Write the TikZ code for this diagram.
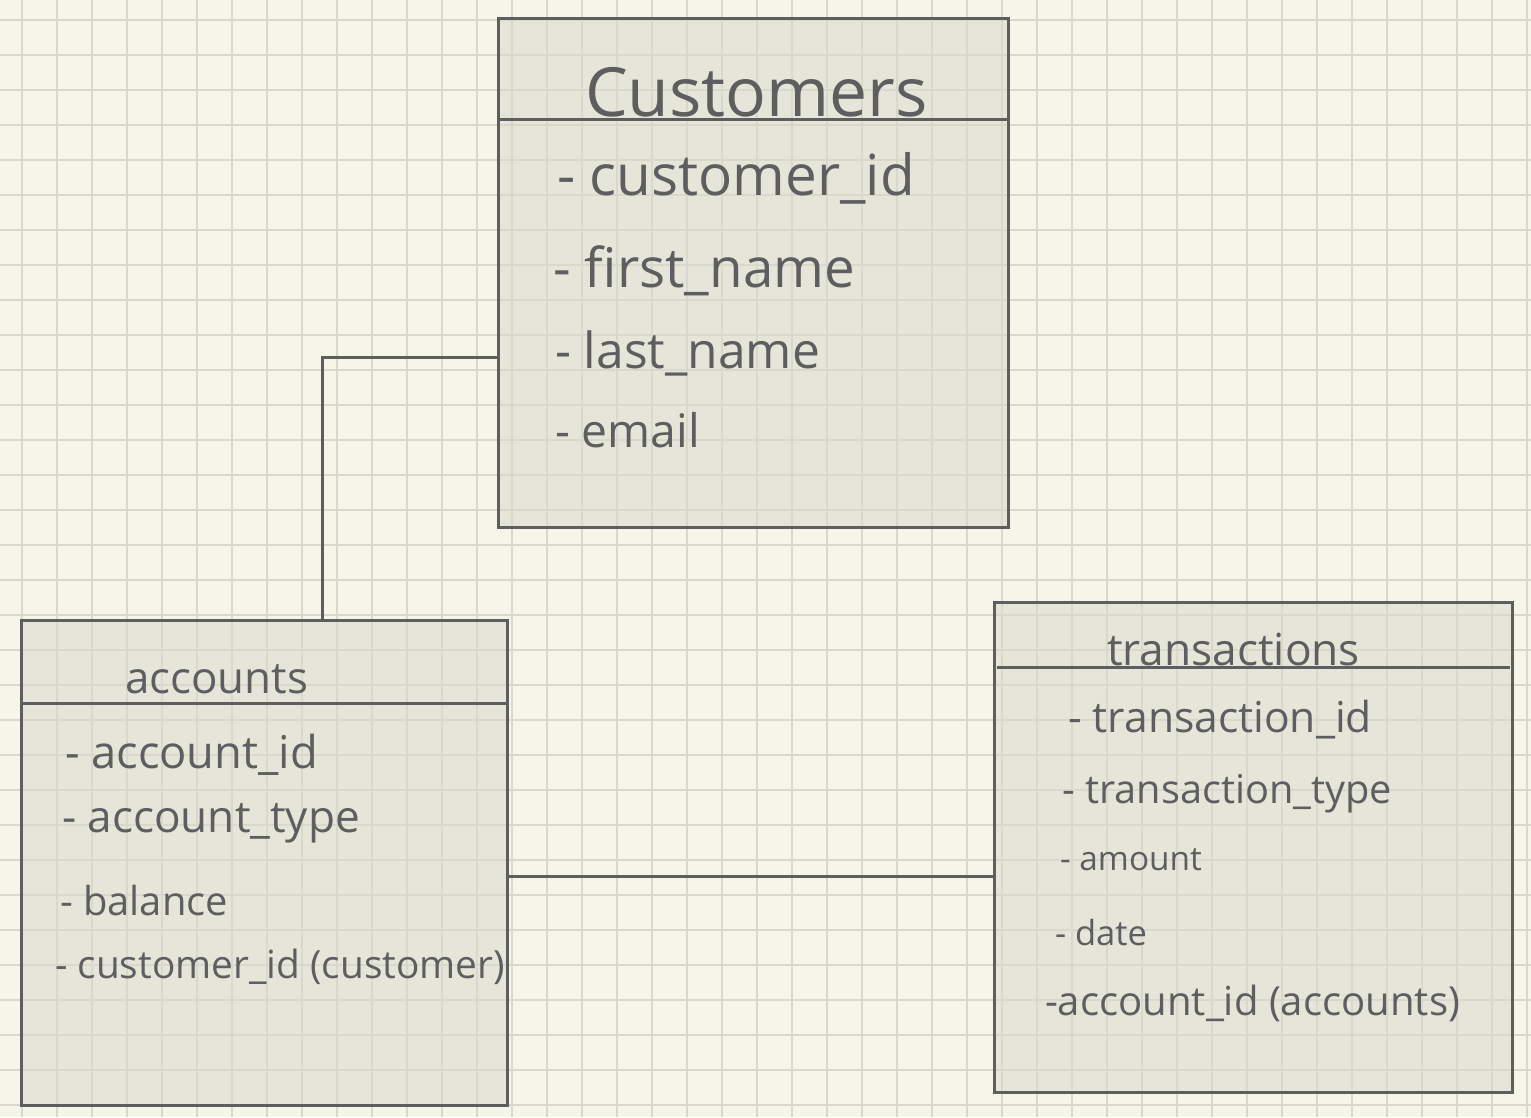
\documentclass[tikz,border=0pt]{standalone}
\usepackage{fontspec}
\usepackage{graphicx}
\newfontfamily\handfont{Open Sans}
\definecolor{paper}{HTML}{F5F5EA}
\definecolor{boxfill}{HTML}{E5E5D9}
\definecolor{gridc}{HTML}{D8D8CC}
\definecolor{ink}{HTML}{5E5E5E}
\newcommand\fw[2]{\resizebox{#1pt}{!}{\handfont\fontsize{40}{40}\selectfont #2}}
\begin{document}
\begin{tikzpicture}[x=1pt,y=-1pt,
  tbl/.style={fill=boxfill,draw=none,inner sep=0,outer sep=0,anchor=north west},
  outl/.style={draw=ink,line width=3pt},
  conn/.style={draw=ink,line width=3pt},
  lbl/.style={anchor=base west,inner sep=0,outer sep=0,text=ink}]
\useasboundingbox (0,0) rectangle (1531,1117);
\fill[paper] (0,0) rectangle (1531,1117);
% table bodies
\node[tbl,minimum width=510pt,minimum height=509pt] (cust) at (498,18) {};
\node[tbl,minimum width=486pt,minimum height=485pt] (acc) at (21,620) {};
\node[tbl,minimum width=518pt,minimum height=490pt] (trans) at (994,602) {};
% grid
\foreach \gx in {22,57,...,1531} \draw[gridc,line width=1.5pt] (\gx,0) -- (\gx,1117);
\foreach \gy in {20,55,...,1117} \draw[gridc,line width=1.5pt] (0,\gy) -- (1531,\gy);
% outlines
\draw[outl] (cust.north west) rectangle (cust.south east);
\draw[outl] (acc.north west) rectangle (acc.south east);
\draw[outl] (trans.north west) rectangle (trans.south east);
% header separators
\draw[outl] ([yshift=-101pt]cust.north west) -- ([yshift=-101pt]cust.north east);
\draw[outl] ([yshift=-83pt]acc.north west) -- ([yshift=-83pt]acc.north east);
\draw[outl] ([xshift=3pt,yshift=-65pt]trans.north west) -- ([xshift=-2pt,yshift=-65pt]trans.north east);
% connectors
\coordinate (c1) at ([yshift=-84.5pt]cust.west);
\coordinate (c2) at ([xshift=58pt]acc.north);
\draw[conn] (c1) -| (c2);
\coordinate (a1) at ([yshift=-13.5pt]acc.east);
\draw[conn] (a1) -- (a1 -| trans.west);
% customers texts
\node[lbl] (tc) at (585,116) {\fw{343}{Customers}};
\node[lbl] (tc1) at (557,195) {\fw{358}{- customer\_id}};
\node[lbl] (tc2) at (553,287) {\fw{302}{- first\_name}};
\node[lbl] (tc3) at (555,368) {\fw{265}{- last\_name}};
\node[lbl] (tc4) at (555,447) {\fw{145}{- email}};
% accounts texts
\node[lbl] (ta) at (125,693) {\fw{183}{accounts}};
\node[lbl] (ta1) at (65,768) {\fw{253}{- account\_id}};
\node[lbl] (ta2) at (62,832) {\fw{298}{- account\_type}};
\node[lbl] (ta3) at (60,915) {\fw{168}{- balance}};
\node[lbl] (ta4) at (55,978) {\fw{450}{- customer\_id (customer)}};
% transactions texts
\node[lbl] (tt) at (1107,665) {\fw{253}{transactions}};
\node[lbl] (tt1) at (1068,732) {\fw{304}{- transaction\_id}};
\node[lbl] (tt2) at (1062,803) {\fw{330}{- transaction\_type}};
\node[lbl] (tt3) at (1060,870) {\fw{142}{- amount}};
\node[lbl] (tt4) at (1055,945) {\fw{92}{- date}};
\node[lbl] (tt5) at (1045,1015) {\fw{415}{-account\_id (accounts)}};
\end{tikzpicture}
\end{document}
